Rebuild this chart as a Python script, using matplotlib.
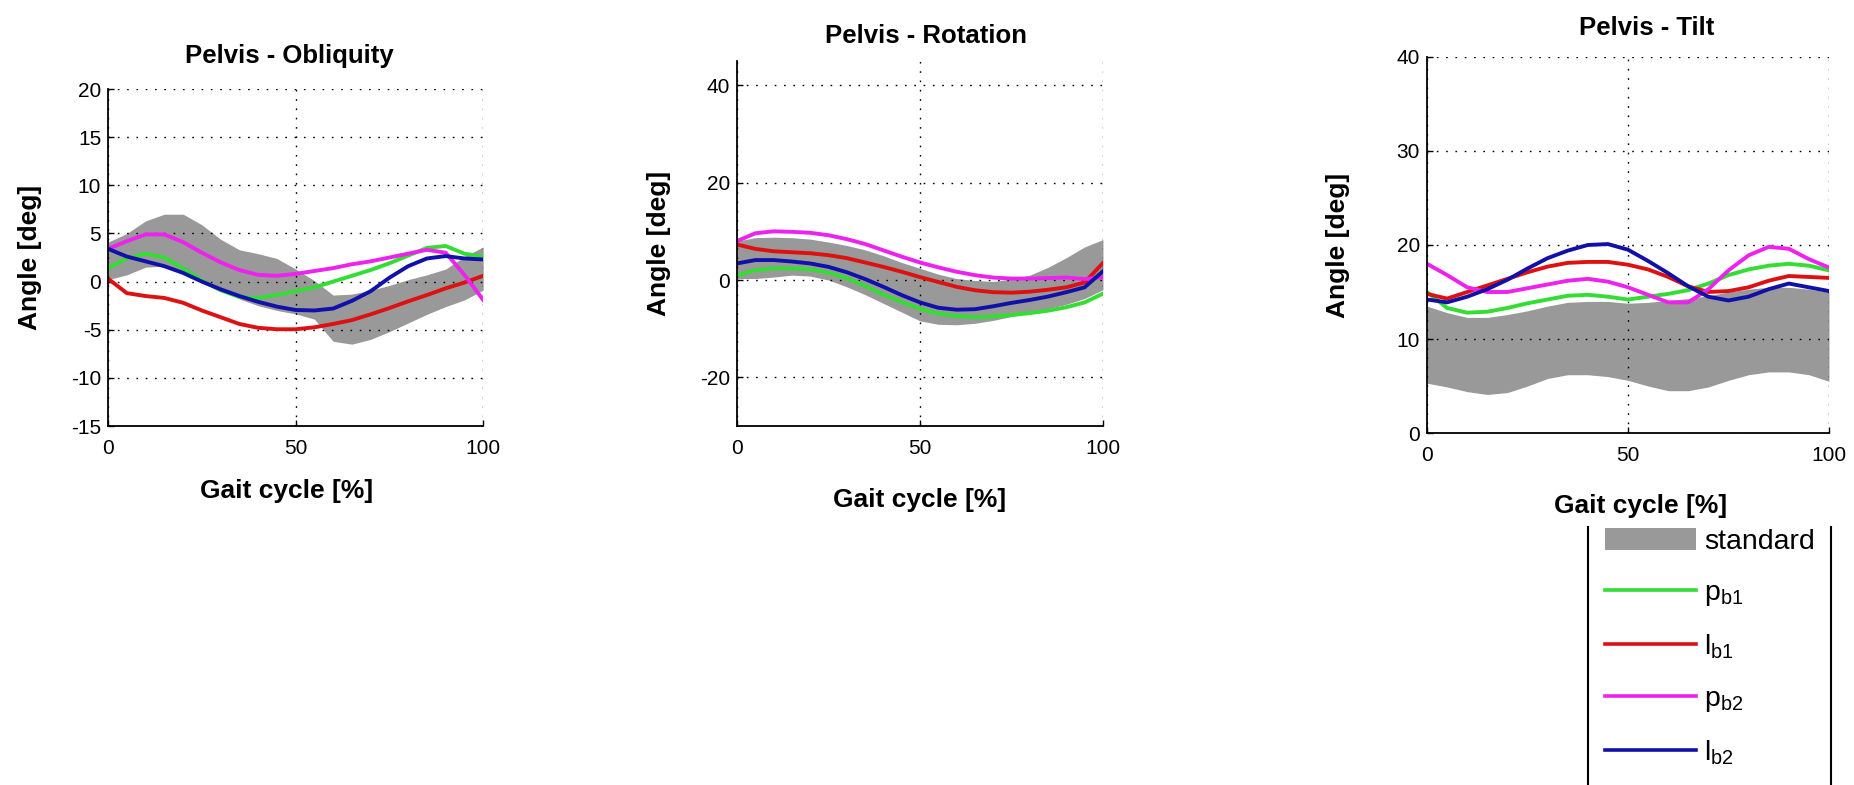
import matplotlib
matplotlib.use("Agg")
import matplotlib.pyplot as plt
from matplotlib.lines import Line2D
from matplotlib.patches import Patch

plt.rcParams['font.family'] = ['Liberation Sans', 'DejaVu Sans']
plt.rcParams['axes.unicode_minus'] = False

# gait cycle sample points [%]
cycle = [0, 5, 10, 15, 20, 25, 30, 35, 40, 45, 50, 55, 60, 65, 70, 75, 80, 85, 90, 95, 100]

# Pelvis - Obliquity
obl_std_low = [0.2, 0.7, 1.5, 1.6, 1.0, 0.1, -0.9, -1.8, -2.5, -3.0, -3.35, -3.9, -6.2, -6.5, -6.0, -5.2, -4.3, -3.4, -2.6, -1.9, -0.9]
obl_std_high = [4.1, 5.0, 6.3, 7.0, 7.0, 5.9, 4.4, 3.3, 2.9, 2.4, 1.3, 0.1, -1.4, -1.3, -0.9, -0.4, 0.2, 0.7, 1.3, 2.6, 3.6]
obl_pb1 = [1.4, 2.4, 2.9, 2.5, 1.4, 0.1, -0.9, -1.6, -1.7, -1.4, -1.0, -0.6, 0.0, 0.6, 1.2, 1.9, 2.7, 3.5, 3.7, 2.9, 2.6]
obl_lb1 = [0.3, -1.2, -1.5, -1.7, -2.2, -3.0, -3.7, -4.4, -4.8, -4.95, -4.95, -4.75, -4.4, -4.0, -3.4, -2.75, -2.05, -1.4, -0.7, -0.1, 0.6]
obl_pb2 = [3.4, 4.2, 4.9, 4.9, 4.1, 3.0, 2.0, 1.2, 0.7, 0.6, 0.8, 1.1, 1.4, 1.8, 2.1, 2.5, 2.9, 3.3, 3.0, 0.7, -1.9]
obl_lb2 = [3.4, 2.6, 2.1, 1.6, 0.9, 0.0, -0.8, -1.5, -2.1, -2.6, -2.95, -3.0, -2.8, -2.0, -1.0, 0.4, 1.6, 2.4, 2.65, 2.4, 2.3]

# Pelvis - Rotation
rot_std_low = [0.3, 0.3, 0.6, 1.0, 0.8, 0.0, -1.4, -3.0, -4.8, -6.6, -8.4, -9.1, -9.2, -8.9, -8.3, -7.5, -6.8, -5.9, -5.0, -3.8, -2.0]
rot_std_high = [8.0, 8.7, 8.8, 8.7, 8.4, 7.8, 7.1, 6.2, 5.0, 3.6, 2.4, 1.2, 0.3, -0.1, -0.3, 0.2, 1.0, 2.6, 4.6, 6.8, 8.3]
rot_pb1 = [1.0, 2.0, 2.4, 2.4, 2.2, 1.5, 0.4, -1.2, -3.0, -4.5, -5.9, -6.9, -7.4, -7.6, -7.5, -7.2, -6.8, -6.3, -5.6, -4.6, -2.8]
rot_lb1 = [7.3, 6.4, 5.9, 5.7, 5.5, 5.1, 4.5, 3.6, 2.7, 1.7, 0.6, -0.4, -1.4, -2.1, -2.5, -2.6, -2.4, -2.0, -1.5, -0.5, 3.5]
rot_pb2 = [8.0, 9.6, 10.0, 9.9, 9.7, 9.2, 8.4, 7.4, 6.1, 4.8, 3.6, 2.6, 1.7, 1.0, 0.5, 0.3, 0.3, 0.4, 0.5, 0.2, 0.6]
rot_lb2 = [3.4, 4.1, 4.1, 3.8, 3.4, 2.7, 1.6, 0.2, -1.4, -3.1, -4.6, -5.7, -6.1, -6.0, -5.4, -4.7, -4.1, -3.4, -2.5, -1.5, 1.8]

# Pelvis - Tilt
tilt_std_low = [5.3, 4.9, 4.4, 4.1, 4.3, 5.0, 5.8, 6.2, 6.2, 6.0, 5.6, 5.0, 4.5, 4.5, 4.9, 5.6, 6.2, 6.5, 6.5, 6.2, 5.5]
tilt_std_high = [13.5, 12.8, 12.3, 12.3, 12.6, 13.0, 13.5, 13.9, 14.0, 14.0, 13.8, 13.9, 14.1, 14.3, 14.6, 15.0, 15.3, 15.5, 15.5, 15.3, 15.0]
tilt_pb1 = [15.0, 13.3, 12.8, 12.9, 13.3, 13.8, 14.2, 14.6, 14.7, 14.5, 14.2, 14.5, 14.8, 15.2, 15.9, 16.8, 17.4, 17.8, 18.0, 17.8, 17.3]
tilt_lb1 = [14.8, 14.3, 15.0, 15.7, 16.4, 17.1, 17.7, 18.1, 18.2, 18.2, 17.9, 17.4, 16.6, 15.6, 15.0, 15.1, 15.5, 16.2, 16.7, 16.6, 16.5]
tilt_pb2 = [18.0, 16.8, 15.5, 15.0, 15.0, 15.4, 15.8, 16.2, 16.4, 16.1, 15.5, 14.7, 13.9, 13.9, 15.3, 17.3, 18.9, 19.8, 19.6, 18.5, 17.6]
tilt_lb2 = [14.2, 13.9, 14.5, 15.3, 16.3, 17.5, 18.6, 19.4, 20.0, 20.1, 19.5, 18.3, 17.0, 15.6, 14.5, 14.1, 14.5, 15.3, 15.9, 15.5, 15.1]

series_labels = [r'p$_\mathregular{b1}$', r'l$_\mathregular{b1}$', r'p$_\mathregular{b2}$', r'l$_\mathregular{b2}$']
series_colors = ['#33dd33', '#dd1111', '#ee22ee', '#1111aa']
std_color = '#999999'


def draw_panel(ax, title, std_low, std_high, curves, ylim, yticks, title_xy, ylabel_x, xlabel_xy):
    ax.fill_between(cycle, std_low, std_high, color=std_color, linewidth=0)
    for values, color in zip(curves, series_colors):
        ax.plot(cycle, values, color=color, linewidth=2.8)

    ax.set_xlim(0, 100)
    ax.set_ylim(*ylim)
    ax.set_xticks([0, 50, 100])
    ax.set_yticks(yticks)

    # matlab style: box off, dotted grid, inward ticks
    ax.spines['top'].set_visible(False)
    ax.spines['right'].set_visible(False)
    for side in ['left', 'bottom']:
        ax.spines[side].set_linewidth(1.3)
    ax.grid(True, color='black', linestyle=(0, (1.2, 5.5)), linewidth=1.0)
    ax.tick_params(direction='in', length=4, width=1.0, labelsize=15, pad=9)
    ax.tick_params(axis='y', pad=5)

    ax.text(title_xy[0], title_xy[1], title, transform=ax.transAxes,
            ha='center', va='baseline', fontsize=18.5, fontweight='bold')
    ax.set_ylabel('Angle [deg]', fontsize=19, fontweight='bold', va='center')
    ax.yaxis.set_label_coords(ylabel_x, 0.5)
    ax.set_xlabel('Gait cycle [%]', fontsize=19, fontweight='bold', va='baseline')
    ax.xaxis.set_label_coords(*xlabel_xy)


fig = plt.figure(figsize=(18.54, 7.85), dpi=100)

ax1 = fig.add_axes([0.0583, 0.4573, 0.2023, 0.4293])
ax2 = fig.add_axes([0.3975, 0.4573, 0.1974, 0.4650])
ax3 = fig.add_axes([0.7697, 0.4484, 0.2168, 0.4790])

draw_panel(ax1, 'Pelvis - Obliquity', obl_std_low, obl_std_high,
           [obl_pb1, obl_lb1, obl_pb2, obl_lb2], (-15, 20), range(-15, 21, 5),
           (0.483, 1.077), -0.208, (0.477, -0.214))
draw_panel(ax2, 'Pelvis - Rotation', rot_std_low, rot_std_high,
           [rot_pb1, rot_lb1, rot_pb2, rot_lb2], (-30, 45), [-20, 0, 20, 40],
           (0.516, 1.049), -0.213, (0.5, -0.222))
draw_panel(ax3, 'Pelvis - Tilt', tilt_std_low, tilt_std_high,
           [tilt_pb1, tilt_lb1, tilt_pb2, tilt_lb2], (0, 40), [0, 10, 20, 30, 40],
           (0.547, 1.0585), -0.221, (0.532, -0.213))

# legend below the tilt panel
handles = [Patch(facecolor=std_color, edgecolor='none')]
handles += [Line2D([0], [0], color=c, linewidth=2.6) for c in series_colors]
fig.legend(handles, ['standard'] + series_labels, loc='upper left',
           bbox_to_anchor=(0.8657, 0.327), frameon=False, fontsize=20.5,
           handlelength=3.2, handleheight=0.8, handletextpad=0.28,
           labelspacing=0.85, borderpad=0, borderaxespad=0)

# legend box sides (top and bottom run off the figure)
for x in [1588 / 1854, 1831 / 1854]:
    fig.add_artist(Line2D([x, x], [0, 1 - 527 / 785], transform=fig.transFigure,
                          color='black', linewidth=1.5))

fig.savefig('out.png', dpi=100)
